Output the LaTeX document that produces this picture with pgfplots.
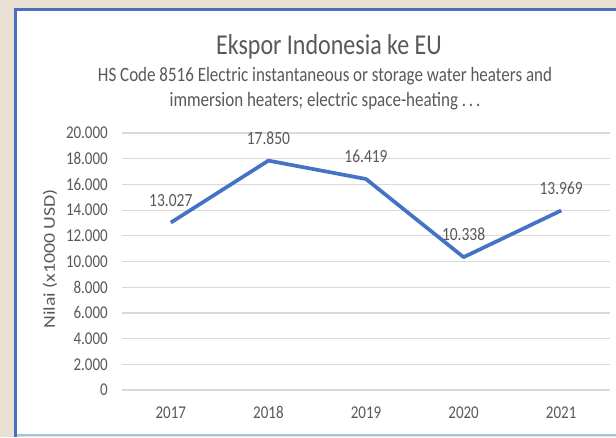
\documentclass[border=0pt]{standalone}
\usepackage{graphicx}
\usepackage{pgfplots}
\pgfplotsset{compat=1.18}
\usepackage{fontspec}
\setmainfont{Carlito}
\definecolor{lineblue}{HTML}{4472C4}
\definecolor{txtgray}{HTML}{595959}
\definecolor{gridgray}{HTML}{D9D9D9}
\definecolor{framebl}{HTML}{4A6FBF}
\definecolor{framelt}{HTML}{A9C1E8}
\definecolor{beige}{HTML}{E8E0D2}
\newcommand{\st}[1]{\scalebox{1}[1.2]{#1}}
\begin{document}
\begin{tikzpicture}[x=1pt,y=1pt]
\useasboundingbox (0,0) rectangle (616,437);
\begin{scope}
\clip (0,0) rectangle (616,437);
\fill[beige] (0,0) rectangle (616,437);
\fill[white] (15.5,2) rectangle (630,427.5);
\draw[framelt, line width=1.5pt] (15.5,2) -- (630,2);
\draw[framebl, line width=3pt] (15.5,0) -- (15.5,427.5) -- (630,427.5);
\end{scope}
\node[font=\fontsize{24}{28}\selectfont, text=txtgray] at (329,390) {\st{Ekspor Indonesia ke EU}};
\node[font=\fontsize{17}{20}\selectfont, text=txtgray] at (325,361) {\st{HS Code 8516 Electric instantaneous or storage water heaters and}};
\node[font=\fontsize{17}{20}\selectfont, text=txtgray] at (325,336) {\st{immersion heaters; electric space-heating .\,.\,.}};
\node[rotate=90, font=\fontsize{16.5}{19}\selectfont, text=txtgray] at (50,178) {\scalebox{1.2}[1]{Nilai (x1000 USD)}};
\begin{axis}[
  at={(122pt,47pt)}, anchor=south west,
  scale only axis, width=488pt, height=257pt,
  xmin=2016.5, xmax=2021.5, ymin=0, ymax=20000,
  xtick={2017,2018,2019,2020,2021},
  xticklabels={\st{2017},\st{2018},\st{2019},\st{2020},\st{2021}},
  ytick={0,2000,...,20000},
  axis line style={draw=none}, major tick length=0pt,
  ymajorgrids, grid style={gridgray, line width=1.2pt},
  /pgf/number format/.cd, fixed, precision=0, 1000 sep={.}, assume math mode=true,
  /pgfplots/.cd,
  scaled y ticks=false,
  yticklabel={\st{\pgfmathprintnumber{\tick}}},
  ticklabel style={font=\fontsize{15}{18}\selectfont, text=txtgray, inner sep=0pt},
  yticklabel style={anchor=east, xshift=-14pt},
  xticklabel style={anchor=base, yshift=-28pt},
  nodes near coords={\st{\pgfmathprintnumber{\pgfplotspointmeta}}},
  every node near coord/.append style={font=\fontsize{15.5}{18}\selectfont, text=txtgray, anchor=base, yshift=16.5pt, inner sep=0pt},
]
\addplot[lineblue, line width=3.7pt, line join=round, mark=none] coordinates {
  (2017,13027) (2018,17850) (2019,16419) (2020,10338) (2021,13969)
};
\end{axis}
\end{tikzpicture}
\end{document}
